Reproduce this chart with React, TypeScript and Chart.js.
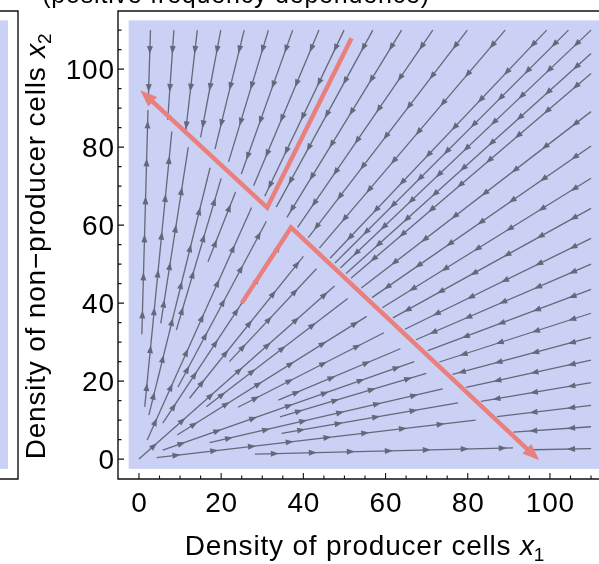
import React, { useEffect, useRef } from "react";
import { Chart, registerables } from "chart.js";

Chart.register(...registerables);

// ---------- data ----------
// streamlines flowing toward the origin (start on the plot border, end near x1+x2 ≈ 96)
const outerStartX = [2.8, 8.5, 14.2, 19.9, 25.6, 31.5, 37.4, 43.8, 49.9, 56.9, 63.9, 71.5, 79.9, 89.1, 99.2, 104.5, 110,
  110, 110, 110, 110, 110, 110, 110, 110, 110, 110, 110, 110, 110, 110, 110, 110];
const outerStartY = [110, 110, 110, 110, 110, 110, 110, 110, 110, 110, 110, 110, 110, 110, 110, 110, 110,
  104, 98.9, 89.1, 80.3, 72, 64.3, 56.6, 50, 43.5, 37.4, 31.2, 25.4, 19.6, 13.8, 8.3, 2.7];
const outerEndX = [2.3, 7.0, 11.3, 15, 18.5, 21.8, 24.9, 27.9, 30.6, 33.4, 36, 38.6, 41.2, 43.9, 46.5, 47.7, 49,
  50.4, 51.6, 54.1, 56.7, 59.2, 61.8, 64.7, 67.4, 70.3, 73.1, 76.3, 79.6, 83.2, 87.1, 91.1, 96];
const outerEndY = [93, 87, 83.5, 82.5, 79.5, 76.2, 73.1, 70.1, 67.4, 64.6, 62, 59.4, 56.8, 54.1, 51.5, 50.3, 49,
  47.6, 46.4, 43.9, 41.4, 38.8, 36.2, 33.3, 30.6, 27.8, 24.9, 21.7, 18.4, 14.8, 10.9, 6.9, 2.4];

// streamlines flowing away from the origin
const innerStartX = [0.7, 1.4, 5.3, 2.4, 9.1, 16.8, 2.0, 9.5, 5.8, 12.3, 22, 0, 16.4, 9.3, 24.1, 33.9, 5.8, 34.3, 17.2, 34.7, 4.3, 28.2];
const innerStartY = [32, 13.4, 34.8, 11.3, 33.1, 50.6, 4.9, 18.5, 9.2, 15.6, 25, 0, 13.4, 6.2, 13.3, 15.1, 2.3, 10.8, 4.2, 6.6, 0.4, 1.3];
const innerEndX = [2.2, 8, 12, 17.3, 20, 23.5, 27.4, 31, 35.4, 40, 43.2, 47.6, 50.8, 55.4, 59.6, 63.6, 67, 69.9, 73.9, 77.6, 81.9, 91];
const innerEndY = [89.5, 84, 80, 74.7, 72, 68.5, 64.5, 61, 56.6, 52, 48.8, 44.4, 41.2, 36.6, 32.4, 28.3, 25, 22, 18, 14.4, 10, 2.9];

// highlighted trajectories
const trajAX = [25, 37, 97.4];
const trajAY = [40, 59.4, -0.3];
const trajBX = [51.7, 31.2, 0.3];
const trajBY = [107.9, 64.5, 94.6];

// axes
const majorTicks = [0, 20, 40, 60, 80, 100];
const minorTicks = [5, 10, 15, 25, 30, 35, 45, 50, 55, 65, 70, 75, 85, 90, 95, 105, 110];
const axisMin = -5.1;
const xMax = 115;
const yMax = 114.9;
const regionRange = [-2.5, 112.5];

const TITLE = "(positive frequency dependence)";
const XTITLE = "Density of producer cells ";
const YTITLE = "Density of non\u2212producer cells ";

// ---------- styles ----------
const BLUE = "rgb(203,208,245)";
const GRAY = "rgb(100,104,120)";
const PINK = "rgb(233,128,126)";
const FONT = "'Liberation Sans', Arial, Helvetica, sans-serif";
const FS = 28;
const SPACING = 0.8;

function arrowHead(ctx: CanvasRenderingContext2D, x: number, y: number, ang: number, len: number, hw: number, color: string) {
  ctx.save();
  ctx.translate(x, y);
  ctx.rotate(ang);
  ctx.beginPath();
  ctx.moveTo(0, 0);
  ctx.lineTo(-len, hw);
  ctx.lineTo(-len, -hw);
  ctx.closePath();
  ctx.fillStyle = color;
  ctx.fill();
  ctx.restore();
}

// draws "<text> x<sub>" starting at (0,0) in the current transform; returns nothing
function drawAxisTitle(ctx: CanvasRenderingContext2D, text: string, sub: string, cx: number) {
  ctx.font = `${FS}px ${FONT}`;
  const w1 = ctx.measureText(text).width;
  ctx.font = `italic ${FS}px ${FONT}`;
  const wx = ctx.measureText("x").width;
  ctx.font = `19px ${FONT}`;
  const ws = ctx.measureText(sub).width;
  const total = w1 + wx + ws - 1;
  const x0 = cx - total / 2;
  ctx.textAlign = "left";
  ctx.font = `${FS}px ${FONT}`;
  ctx.fillText(text, x0, 0);
  ctx.font = `italic ${FS}px ${FONT}`;
  ctx.fillText("x", x0 + w1, 0);
  ctx.font = `19px ${FONT}`;
  ctx.fillText(sub, x0 + w1 + wx - 1, 6);
}

const fieldPlugin = {
  id: "fieldPlugin",
  beforeDatasetsDraw(chart: any) {
    const { ctx, scales } = chart;
    const x0 = scales.x.getPixelForValue(regionRange[0]);
    const x1 = scales.x.getPixelForValue(regionRange[1]);
    const y0 = scales.y.getPixelForValue(regionRange[1]);
    const y1 = scales.y.getPixelForValue(regionRange[0]);
    ctx.save();
    ctx.fillStyle = BLUE;
    ctx.fillRect(x0, y0, x1 - x0, y1 - y0);
    // neighbouring panel (partially visible at the left)
    ctx.fillRect(0, y0, 8, y1 - y0);
    ctx.restore();
  },
  beforeDatasetDraw(chart: any, args: any) {
    const ds = chart.data.datasets[args.index];
    if (ds.kind !== "traj") return;
    const pts = args.meta.data;
    const a = pts[pts.length - 2], b = pts[pts.length - 1];
    const ang = Math.atan2(b.y - a.y, b.x - a.x);
    const c = Math.cos(ang), s = Math.sin(ang);
    const ctx = chart.ctx;
    ctx.save();
    ctx.beginPath();
    ctx.rect(0, 0, chart.width, chart.height);
    const back = 13, fwd = 6, w = 8;
    const bx = b.x - c * back, by = b.y - s * back;
    const fx = b.x + c * fwd, fy = b.y + s * fwd;
    ctx.moveTo(bx - s * w, by + c * w);
    ctx.lineTo(fx - s * w, fy + c * w);
    ctx.lineTo(fx + s * w, fy - c * w);
    ctx.lineTo(bx + s * w, by - c * w);
    ctx.closePath();
    ctx.clip("evenodd");
  },
  afterDatasetDraw(chart: any, args: any) {
    const ds = chart.data.datasets[args.index];
    const ctx = chart.ctx;
    const pts = args.meta.data;
    if (ds.kind === "traj") {
      ctx.restore();
      const a = pts[pts.length - 2], b = pts[pts.length - 1];
      arrowHead(ctx, b.x, b.y, Math.atan2(b.y - a.y, b.x - a.x), 17, 6.5, PINK);
      return;
    }
    if (ds.kind !== "stream") return;
    const a = pts[0], b = pts[1];
    const dx = b.x - a.x, dy = b.y - a.y;
    const L = Math.hypot(dx, dy);
    const ang = Math.atan2(dy, dx);
    ctx.save();
    const area = chart.chartArea;
    ctx.beginPath();
    ctx.rect(area.left, area.top, area.right - area.left, area.bottom - area.top);
    ctx.clip();
    for (let d = 24; d < L - 3; d += 38) {
      arrowHead(ctx, a.x + (dx * d) / L, a.y + (dy * d) / L, ang, 8, 3, GRAY);
    }
    ctx.restore();
  },
  afterDraw(chart: any) {
    const { ctx, scales, chartArea } = chart;
    const xs = scales.x, ys = scales.y;
    const left = chartArea.left, top = chartArea.top, bottom = chartArea.bottom;
    ctx.save();
    ctx.strokeStyle = "#111";
    ctx.lineWidth = 1.4;
    ctx.beginPath();
    // main frame
    ctx.moveTo(chart.width, top);
    ctx.lineTo(left, top);
    ctx.lineTo(left, bottom);
    ctx.lineTo(chart.width, bottom);
    // neighbouring panel frame
    ctx.moveTo(0, top);
    ctx.lineTo(18, top);
    ctx.lineTo(18, bottom);
    ctx.lineTo(0, bottom);
    ctx.stroke();

    // inward ticks
    ctx.lineWidth = 1.1;
    ctx.beginPath();
    majorTicks.forEach((v) => {
      const px = xs.getPixelForValue(v);
      ctx.moveTo(px, bottom);
      ctx.lineTo(px, bottom - 6);
      const py = ys.getPixelForValue(v);
      ctx.moveTo(left, py);
      ctx.lineTo(left + 6, py);
    });
    minorTicks.forEach((v) => {
      const px = xs.getPixelForValue(v);
      ctx.moveTo(px, bottom);
      ctx.lineTo(px, bottom - 3.5);
      const py = ys.getPixelForValue(v);
      ctx.moveTo(left, py);
      ctx.lineTo(left + 3.5, py);
    });
    ctx.stroke();

    // tick labels
    ctx.fillStyle = "#000";
    (ctx as any).letterSpacing = `${SPACING}px`;
    ctx.font = `${FS}px ${FONT}`;
    ctx.textBaseline = "alphabetic";
    ctx.textAlign = "left";
    majorTicks.forEach((v) => {
      const s = String(v);
      const px = xs.getPixelForValue(v);
      const w = ctx.measureText(s).width - SPACING;
      ctx.fillText(s, px - w / 2, 512);
      const py = ys.getPixelForValue(v);
      ctx.fillText(s, 114 - w, py + 10);
    });

    // x title
    ctx.save();
    ctx.translate(0, 555);
    drawAxisTitle(ctx, XTITLE, "1", 365);
    ctx.restore();

    // y title
    ctx.save();
    ctx.translate(45, 0);
    ctx.rotate(-Math.PI / 2);
    drawAxisTitle(ctx, YTITLE, "2", -246);
    ctx.restore();

    // title (cut off by the top edge)
    ctx.font = `25px ${FONT}`;
    ctx.textAlign = "center";
    ctx.fillText(TITLE, 236, 3);
    ctx.restore();
  },
};

export default function App() {
  const ref = useRef<HTMLCanvasElement>(null);
  useEffect(() => {
    const canvas = ref.current;
    if (!canvas) return;
    const datasets: any[] = [];
    const pushStream = (x0: number, y0: number, x1: number, y1: number) =>
      datasets.push({
        kind: "stream",
        data: [{ x: x0, y: y0 }, { x: x1, y: y1 }],
        showLine: true,
        borderColor: GRAY,
        borderWidth: 1.3,
        pointRadius: 0,
        fill: false,
        order: 1,
      });
    outerStartX.forEach((v, i) => pushStream(v, outerStartY[i], outerEndX[i], outerEndY[i]));
    innerStartX.forEach((v, i) => pushStream(v, innerStartY[i], innerEndX[i], innerEndY[i]));
    [
      [trajAX, trajAY],
      [trajBX, trajBY],
    ].forEach(([xs, ys]) =>
      datasets.push({
        kind: "traj",
        data: xs.map((x, i) => ({ x, y: ys[i] })),
        showLine: true,
        borderColor: PINK,
        borderWidth: 4.5,
        borderCapStyle: "butt",
        borderJoinStyle: "miter",
        pointRadius: 0,
        fill: false,
        order: 0,
      })
    );

    const chart = new Chart(canvas, {
      type: "scatter",
      data: { datasets },
      options: {
        animation: false,
        responsive: false,
        maintainAspectRatio: false,
        events: [],
        layout: { padding: { top: 11, right: 28.4, left: 0, bottom: 0 } },
        plugins: { legend: { display: false }, tooltip: { enabled: false }, title: { display: false } },
        scales: {
          x: {
            type: "linear",
            min: axisMin,
            max: xMax,
            grid: { display: false },
            border: { display: false },
            ticks: { display: false },
            afterFit: (s: any) => {
              s.height = 85;
            },
          },
          y: {
            type: "linear",
            min: axisMin,
            max: yMax,
            grid: { display: false },
            border: { display: false },
            ticks: { display: false },
            afterFit: (s: any) => {
              s.width = 118;
            },
          },
        },
      } as any,
      plugins: [fieldPlugin as any],
    });
    return () => chart.destroy();
  }, []);
  return (
    <div style={{ position: "fixed", left: 0, top: 0, width: 599, height: 564, overflow: "hidden", background: "#fff" }}>
      <canvas ref={ref} width={640} height={564} style={{ width: 640, height: 564, display: "block" }} />
    </div>
  );
}
